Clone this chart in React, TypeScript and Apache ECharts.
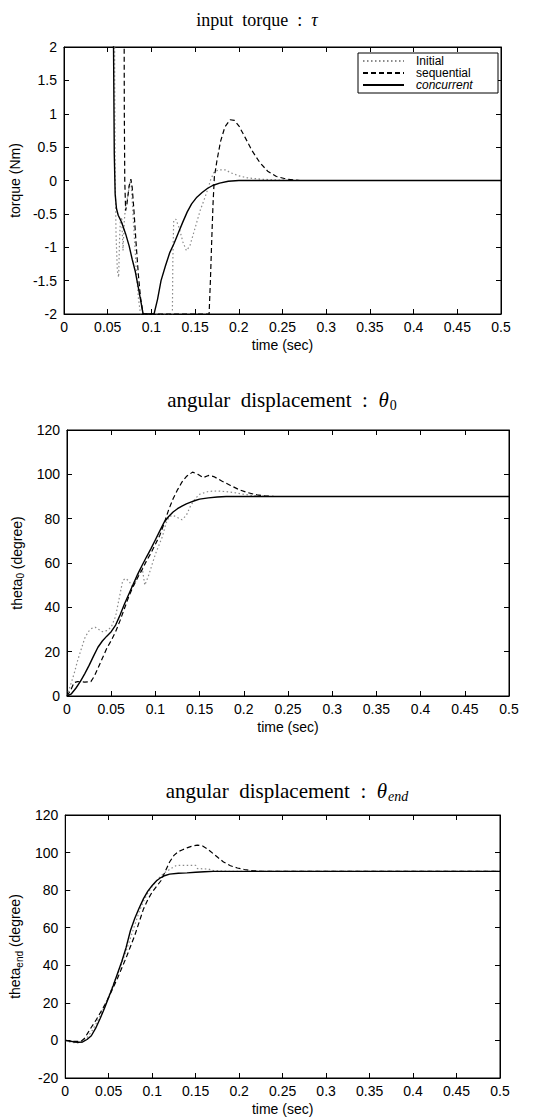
import React, { useEffect, useRef } from "react";
import * as echarts from "echarts";

// ---------- data ----------
const SERIES_NAMES = ["Initial", "sequential", "concurrent"];

const TORQUE_INITIAL = [
  [0, 8], [0.05, 6], [0.0575, 4], [0.058, 1.5], [0.0585, 0.1], [0.0595, -0.8], [0.061, -1.35], [0.0625, -1.45],
  [0.0635, -0.9], [0.0645, -0.6], [0.066, -0.55], [0.0675, -1.05], [0.069, -0.6], [0.071, -0.3], [0.073, -0.25],
  [0.075, -0.05], [0.0765, 0], [0.078, -0.3], [0.08, -0.75], [0.0825, -1.3], [0.085, -1.75], [0.0875, -2],
  [0.124, -2], [0.1245, -1.2], [0.1255, -0.6], [0.128, -0.58], [0.132, -0.72], [0.136, -0.92], [0.14, -1.05],
  [0.144, -0.98], [0.148, -0.8], [0.152, -0.62], [0.156, -0.44], [0.16, -0.3], [0.164, -0.15], [0.168, 0.02],
  [0.172, 0.13], [0.177, 0.16], [0.185, 0.16], [0.19, 0.12], [0.2, 0.07], [0.21, 0.04], [0.225, 0.02],
  [0.24, 0.01], [0.26, 0], [0.5, 0],
];
const TORQUE_SEQUENTIAL = [
  [0, 8], [0.05, 7], [0.0685, 4], [0.069, 1], [0.0695, 0], [0.0705, -0.45], [0.072, -0.35], [0.0745, -0.08],
  [0.0765, 0.02], [0.078, -0.1], [0.08, -0.45], [0.0825, -0.95], [0.085, -1.4], [0.0875, -1.75], [0.0905, -2],
  [0.166, -2], [0.1675, -1.5], [0.169, -0.9], [0.1705, -0.35], [0.172, 0.05], [0.175, 0.3], [0.179, 0.58],
  [0.184, 0.8], [0.19, 0.91], [0.195, 0.9], [0.2, 0.82], [0.207, 0.65], [0.215, 0.45], [0.224, 0.27],
  [0.233, 0.14], [0.243, 0.06], [0.255, 0.02], [0.27, 0], [0.5, 0],
];
const TORQUE_CONCURRENT = [
  [0, 8], [0.05, 6], [0.0565, 2.3], [0.0575, 0.4], [0.0585, -0.2], [0.06, -0.42], [0.062, -0.52], [0.066, -0.63],
  [0.0705, -0.8], [0.0745, -0.98], [0.078, -1.18], [0.0815, -1.36], [0.085, -1.6], [0.088, -1.82], [0.0905, -2],
  [0.103, -2], [0.107, -1.78], [0.111, -1.5], [0.116, -1.28], [0.121, -1.08], [0.126, -0.94], [0.131, -0.78],
  [0.136, -0.62], [0.141, -0.47], [0.146, -0.35], [0.152, -0.25], [0.158, -0.18], [0.164, -0.12], [0.17, -0.075],
  [0.178, -0.04], [0.188, -0.012], [0.2, 0], [0.5, 0],
];

const THETA0_INITIAL = [
  [0, 0], [0.004, 5], [0.008, 10], [0.012, 16], [0.016, 21], [0.02, 26], [0.024, 29], [0.028, 30.5], [0.032, 31],
  [0.036, 30], [0.04, 29], [0.045, 29.5], [0.05, 31], [0.055, 36], [0.06, 46], [0.063, 52], [0.066, 53],
  [0.07, 52], [0.074, 49], [0.078, 52], [0.082, 56], [0.085, 58], [0.088, 50], [0.092, 54], [0.096, 59],
  [0.1, 64], [0.104, 68], [0.108, 72], [0.112, 78], [0.116, 81], [0.12, 81.5], [0.125, 80.5], [0.13, 79.5],
  [0.135, 81.5], [0.14, 86], [0.145, 89], [0.15, 91], [0.16, 92.3], [0.17, 92.5], [0.18, 92.2], [0.19, 91.7],
  [0.2, 91], [0.21, 90.5], [0.22, 90.2], [0.23, 90], [0.5, 90],
];
const THETA0_SEQUENTIAL = [
  [0, 0], [0.004, 2.5], [0.008, 6], [0.012, 6.5], [0.02, 6.3], [0.027, 6.5], [0.031, 9], [0.035, 12.5],
  [0.04, 17], [0.045, 21.5], [0.05, 25], [0.055, 29], [0.06, 34], [0.065, 39.5], [0.07, 45], [0.075, 49.5],
  [0.08, 53.5], [0.085, 57], [0.09, 61], [0.095, 64.5], [0.1, 68.5], [0.105, 72.5], [0.11, 78], [0.115, 84],
  [0.12, 89], [0.125, 93], [0.13, 96.5], [0.135, 99], [0.142, 101], [0.148, 100], [0.154, 98.5], [0.16, 99.5],
  [0.166, 99], [0.175, 97], [0.185, 95], [0.195, 93], [0.205, 91.7], [0.215, 90.7], [0.225, 90.2], [0.235, 90],
  [0.5, 90],
];
const THETA0_CONCURRENT = [
  [0, 0], [0.005, 1], [0.01, 3.5], [0.015, 6.5], [0.02, 10], [0.025, 13.8], [0.03, 18], [0.035, 22], [0.04, 24.8],
  [0.045, 27], [0.05, 29], [0.055, 32], [0.06, 36.5], [0.065, 41.5], [0.07, 46], [0.075, 50.5], [0.08, 55],
  [0.085, 59], [0.09, 62.8], [0.095, 66.5], [0.1, 70.5], [0.105, 74.5], [0.11, 78.5], [0.115, 81], [0.12, 83],
  [0.125, 84.5], [0.13, 85.7], [0.135, 86.7], [0.14, 87.5], [0.145, 88.2], [0.15, 88.8], [0.16, 89.4],
  [0.17, 89.8], [0.18, 90], [0.5, 90],
];

const THETAEND_INITIAL = [
  [0, 0], [0.005, -0.8], [0.01, -1.2], [0.015, -1.3], [0.02, -0.8], [0.025, 1.5], [0.03, 4.5], [0.035, 8.5],
  [0.04, 13], [0.045, 18], [0.05, 23.5], [0.055, 29.5], [0.06, 35], [0.065, 41], [0.07, 47.5], [0.075, 54.5],
  [0.08, 61.5], [0.085, 68.5], [0.09, 74], [0.095, 78.5], [0.1, 82], [0.105, 85], [0.11, 87.5], [0.115, 89.5],
  [0.12, 91], [0.125, 92.5], [0.128, 93.2], [0.15, 93.2], [0.152, 91.5], [0.165, 91.2], [0.17, 90.5],
  [0.18, 90.2], [0.19, 90], [0.5, 90],
];
const THETAEND_SEQUENTIAL = [
  [0, 0], [0.01, -0.5], [0.018, -0.5], [0.022, 1], [0.026, 4], [0.03, 7], [0.035, 10.5], [0.04, 14.5],
  [0.045, 18.5], [0.05, 23], [0.055, 28], [0.06, 33], [0.065, 38.5], [0.07, 44], [0.075, 50], [0.08, 56],
  [0.085, 63], [0.09, 70], [0.095, 75], [0.1, 79], [0.105, 82], [0.11, 85], [0.115, 90], [0.12, 95],
  [0.125, 98.5], [0.13, 100.5], [0.135, 101.5], [0.14, 102.5], [0.145, 103.3], [0.152, 104], [0.158, 103.5],
  [0.164, 101.8], [0.17, 99.5], [0.176, 97.2], [0.182, 95], [0.19, 93], [0.198, 91.8], [0.206, 91],
  [0.215, 90.4], [0.225, 90], [0.5, 90],
];
const THETAEND_CONCURRENT = [
  [0, 0], [0.005, -0.3], [0.01, -0.8], [0.015, -1], [0.02, -0.8], [0.025, 0.5], [0.03, 2.5], [0.035, 6.5],
  [0.04, 11.5], [0.045, 17], [0.05, 23], [0.055, 29], [0.06, 35.5], [0.065, 42], [0.07, 49.5], [0.075, 58.5],
  [0.08, 65], [0.085, 70.5], [0.09, 75.5], [0.095, 79.5], [0.1, 82.5], [0.105, 85], [0.11, 86.7],
  [0.115, 87.8], [0.12, 88.5], [0.13, 89], [0.14, 89.2], [0.15, 89.5], [0.16, 89.8], [0.17, 90], [0.5, 90],
];

const X_RANGE = [0, 0.5, 0.05];
const Y_RANGES = [
  [-2, 2, 0.5],
  [0, 120, 20],
  [-20, 120, 20],
];

// ---------- styling ----------
const SANS = '"Liberation Sans Narrow","Arial Narrow","Liberation Sans",Arial,sans-serif';
const SERIF = '"Liberation Serif","Times New Roman",Times,serif';

const GRIDS = [
  { left: 59, top: 47, width: 442, height: 267 },
  { left: 67, top: 430, width: 442, height: 266 },
  { left: 57, top: 815, width: 443, height: 265 },
];
const Y_NAME_GAPS = [25, 27, 24];

const LINE_STYLES = [
  { color: "#8a8a8a", width: 1.2, type: [1.5, 2.5] },
  { color: "#000", width: 1.2, type: [5, 3] },
  { color: "#000", width: 1.4, type: "solid" },
];

export default function App() {
  const ref = useRef<HTMLDivElement>(null);

  useEffect(() => {
    if (!ref.current) return;
    const chart = echarts.init(ref.current, null, { renderer: "svg" });

    const axisLineStyle = { show: true, onZero: false, lineStyle: { color: "#000", width: 1 } };
    const tickStyle = { show: true, inside: true, length: 5, lineStyle: { color: "#000", width: 1 } };
    const labelStyle = { fontFamily: SANS, fontSize: 14, color: "#000" };

    const xAxes: any[] = [];
    const yAxes: any[] = [];
    const yNames = [
      "torque (Nm)",
      "{a|theta}{s|0}{a| (degree)}",
      "{a|theta}{s|end}{a| (degree)}",
    ];
    GRIDS.forEach((_, i) => {
      xAxes.push({
        type: "value", gridIndex: i, position: "bottom",
        min: X_RANGE[0], max: X_RANGE[1], interval: X_RANGE[2],
        name: "time (sec)", nameLocation: "middle", nameGap: 24,
        nameTextStyle: { ...labelStyle, fontSize: 14 },
        axisLine: axisLineStyle, axisTick: tickStyle,
        axisLabel: { ...labelStyle, margin: 6, formatter: (v: number) => String(+v.toFixed(2)) },
        splitLine: { show: false },
      });
      xAxes.push({
        type: "value", gridIndex: i, position: "top",
        min: X_RANGE[0], max: X_RANGE[1], interval: X_RANGE[2],
        axisLine: axisLineStyle, axisTick: tickStyle, axisLabel: { show: false }, splitLine: { show: false },
      });
      const yr = Y_RANGES[i];
      yAxes.push({
        type: "value", gridIndex: i, position: "left",
        min: yr[0], max: yr[1], interval: yr[2],
        name: yNames[i], nameLocation: "middle", nameGap: Y_NAME_GAPS[i],
        nameTextStyle: {
          ...labelStyle,
          rich: {
            a: { fontFamily: SANS, fontSize: 14, color: "#000", lineHeight: 18 },
            s: { fontFamily: SANS, fontSize: 10, color: "#000", lineHeight: 10, verticalAlign: "bottom" },
          },
        },
        axisLine: axisLineStyle, axisTick: tickStyle,
        axisLabel: { ...labelStyle, margin: 7 },
        splitLine: { show: false },
      });
      yAxes.push({
        type: "value", gridIndex: i, position: "right",
        min: yr[0], max: yr[1], interval: yr[2],
        axisLine: axisLineStyle, axisTick: tickStyle, axisLabel: { show: false }, splitLine: { show: false },
      });
    });

    const panels = [
      [TORQUE_INITIAL, TORQUE_SEQUENTIAL, TORQUE_CONCURRENT],
      [THETA0_INITIAL, THETA0_SEQUENTIAL, THETA0_CONCURRENT],
      [THETAEND_INITIAL, THETAEND_SEQUENTIAL, THETAEND_CONCURRENT],
    ];
    const series: any[] = [];
    panels.forEach((sets, i) => {
      sets.forEach((data, k) => {
        series.push({
          type: "line", name: SERIES_NAMES[k], data,
          xAxisIndex: 2 * i, yAxisIndex: 2 * i,
          symbol: "none", showSymbol: false, clip: true, smooth: false,
          lineStyle: LINE_STYLES[k], itemStyle: { color: LINE_STYLES[k].color },
          z: 2 + k,
        });
      });
    });

    const titleRich = {
      t: { fontFamily: SERIF, fontSize: 21, fill: "#000" },
      g: { fontFamily: SERIF, fontSize: 21, fontStyle: "italic", fill: "#000" },
      s: { fontFamily: SERIF, fontSize: 14, fill: "#000", padding: [10, 0, 0, 1] },
      si: { fontFamily: SERIF, fontSize: 14, fontStyle: "italic", fill: "#000", padding: [10, 0, 0, 1] },
    };

    chart.setOption({
      animation: false,
      backgroundColor: "#fff",
      grid: GRIDS.map((g) => ({ ...g, show: true, borderColor: "#000", borderWidth: 1, backgroundColor: "transparent" })),
      xAxis: xAxes,
      yAxis: yAxes,
      series,
      legend: {
        show: true, orient: "vertical", left: 358, top: 53,
        padding: [2, 6, 2, 4], itemGap: 0, itemWidth: 41, itemHeight: 8,
        itemStyle: { opacity: 0 },
        backgroundColor: "#fff", borderColor: "#000", borderWidth: 1, borderRadius: 0,
        textStyle: { fontFamily: SANS, fontSize: 12, color: "#000", lineHeight: 11, width: 76, padding: [0, 0, 0, 7] },
        data: [
          { name: "Initial" },
          { name: "sequential" },
          { name: "concurrent", textStyle: { fontStyle: "italic" } },
        ],
      },
      graphic: [
        { type: "text", x: 257, y: 20, style: { text: "{t|input  torque  :  }{g|τ}", rich: { ...titleRich, t: { ...titleRich.t, fontSize: 18 }, g: { ...titleRich.g, fontSize: 18 } }, align: "center", verticalAlign: "middle" } },
        { type: "text", x: 282, y: 400, style: { text: "{t|angular  displacement  :  }{g|θ}{s|0}", rich: titleRich, align: "center", verticalAlign: "middle" } },
        { type: "text", x: 287, y: 791, style: { text: "{t|angular  displacement  :  }{g|θ}{si|end}", rich: titleRich, align: "center", verticalAlign: "middle" } },
      ],
    });

    return () => chart.dispose();
  }, []);

  return <div ref={ref} style={{ position: "absolute", left: 0, top: 0, width: 547, height: 1117 }} />;
}
